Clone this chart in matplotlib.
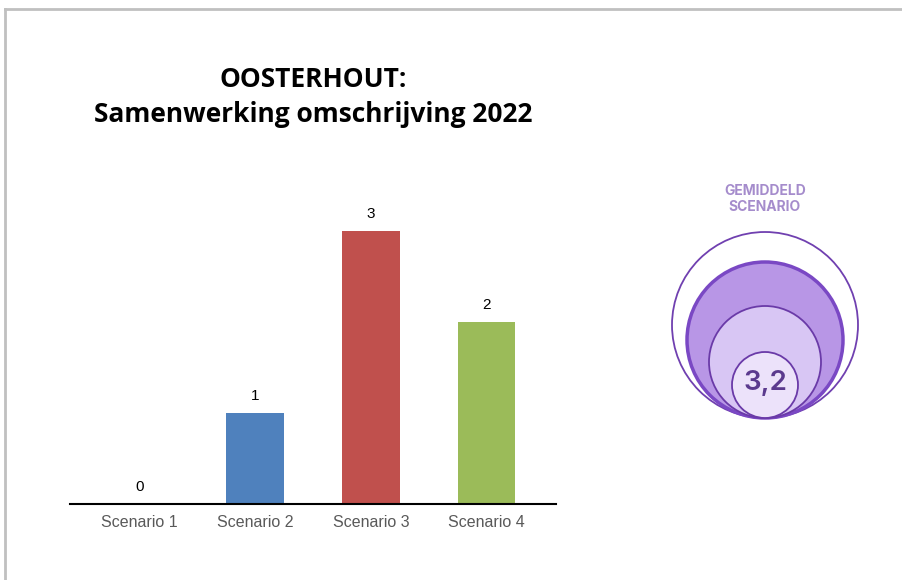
import matplotlib.pyplot as plt
from matplotlib.patches import Circle
from matplotlib.lines import Line2D

# data
scenarios = ["Scenario 1", "Scenario 2", "Scenario 3", "Scenario 4"]
counts = [0, 1, 3, 2]
bar_colors = ["#4f81bd", "#4f81bd", "#c0504d", "#9bbb59"]
title_lines = ["OOSTERHOUT:", "Samenwerking omschrijving 2022"]
average_label = "GEMIDDELD\nSCENARIO"
average_value = "3,2"

W, H = 903, 580
fig = plt.figure(figsize=(W / 100, H / 100), dpi=100)

# bar chart
ax = fig.add_axes([70 / W, 76 / H, 486 / W, 318.5 / H])
x = range(len(scenarios))
ax.bar(x, counts, width=0.5, color=bar_colors)
for xi, v in zip(x, counts):
    ax.annotate(str(v), (xi, v), xytext=(0, 7.5), textcoords="offset points",
                ha="center", va="bottom", fontsize=11, family="Liberation Sans")
ax.set_xlim(-0.6, 3.6)
ax.set_ylim(0, 3.5)
ax.set_xticks(list(x))
ax.set_xticklabels(scenarios, family="Liberation Sans", fontsize=11.5, color="#595959")
ax.tick_params(axis="x", length=0, pad=8)
ax.set_yticks([])
for s in ["top", "right", "left"]:
    ax.spines[s].set_visible(False)
ax.spines["bottom"].set_linewidth(1.5)
ax.spines["bottom"].set_color("black")

# overlay in pixel coordinates for title, border and circles
ov = fig.add_axes([0, 0, 1, 1], zorder=-1)
ov.set_xlim(0, W)
ov.set_ylim(H, 0)
ov.set_aspect("equal")
ov.axis("off")

ov.add_line(Line2D([5, W], [9, 9], color="#c0c0c0", lw=2))
ov.add_line(Line2D([5, 5], [9, H], color="#c0c0c0", lw=2))

ov.text(313, 79, title_lines[0], ha="center", va="center", fontsize=19,
        fontweight="bold", family="Open Sans")
ov.text(313, 114, title_lines[1], ha="center", va="center", fontsize=19,
        fontweight="bold", family="Open Sans")

# nested circles, all touching at the bottom
base_y = 418
cx = 765
circles = [
    (93, "white", "#7040b0", 1.3),
    (78, "#b896e6", "#7a48c4", 2.5),
    (56, "#d8c6f4", "#6a3aa8", 1.3),
    (33, "#ece2fa", "#6a3aa8", 1.3),
]
for r, fc, ec, lw in circles:
    ov.add_patch(Circle((cx, base_y - r), r, facecolor=fc, edgecolor=ec, lw=lw))

ov.text(cx, 383, average_value, ha="center", va="center", fontsize=20,
        fontweight="semibold", color="#5b3a8e", family="Inter")
ov.text(cx, 199, average_label, ha="center", va="center", fontsize=10,
        fontweight="bold", color="#a58ccc", family="Inter", linespacing=1.1)

fig.savefig("out.png", dpi=100)
